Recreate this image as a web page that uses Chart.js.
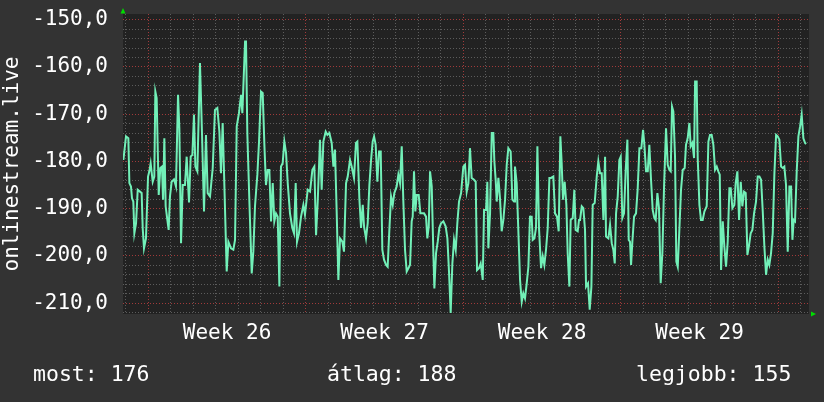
<!DOCTYPE html>
<html>
<head>
<meta charset="utf-8">
<script src="https://cdn.jsdelivr.net/npm/chart.js@4/dist/chart.umd.min.js"></script>
<style>
  html, body { margin: 0; padding: 0; background: #333333; }
  #wrap { width: 824px; height: 402px; }
</style>
</head>
<body>
<div id="wrap"><canvas id="myChart" width="824" height="402"></canvas></div>
<script>
// hours since start of week 26
let hours = [
  -26.6, -23.8, -21.3, -20.2, -18.5, -17.4, -16.0, -14.9, -13.1, -11.3, -8.9, -7.1, -6.0, -4.6, -2.5, -0.3,
  1.1, 2.5, 4.7, 6.4, 7.5, 8.9, 11.1, 12.8, 14.6, 15.7, 17.1, 18.5, 20.3, 21.7, 23.1, 24.9, 27.4, 29.5,
  31.7, 33.1, 34.9, 36.7, 39.1, 40.9, 43.4, 45.2, 47.0, 48.7, 50.2, 52.3, 55.1, 57.3, 59.4, 61.5, 63.3,
  65.8, 68.7, 71.1, 73.6, 75.8, 77.5, 79.3, 81.5, 83.6, 85.4, 88.2, 90.7, 92.5,
  94.3, 96.7, 98.9, 100.3, 103.2, 104.2, 105.6, 107.8, 110.3, 112.0, 113.8, 116.3, 118.1, 120.2, 122.0,
  123.8, 125.5, 127.3, 129.1, 130.9, 132.7, 134.4, 136.2, 138.0, 139.8, 141.5, 143.3, 145.1, 146.9,
  148.7, 151.1, 153.6, 155.4, 157.2, 158.6, 160.7, 162.9, 165.4, 167.1, 170.0, 172.5, 175.0, 177.1,
  178.9, 180.7, 183.1, 184.9, 186.7, 189.2, 191.0, 193.1, 195.6, 197.4, 199.1, 200.9, 202.7, 204.5,
  207.0, 208.7, 210.9, 212.7, 215.1,
  216.9, 219.4, 221.5, 223.0, 225.1, 226.9, 228.7, 230.1, 232.2, 234.0, 235.8, 237.6, 239.3, 240.8,
  242.5, 244.3, 246.1, 247.9, 249.6, 251.4, 253.6, 255.3, 257.1, 258.9, 260.7, 262.4, 264.9, 266.7,
  268.5, 270.3, 272.0, 273.8, 275.6, 277.4, 279.2, 280.9, 282.0, 283.4, 284.8, 286.3, 288.4, 290.2,
  292.3, 294.1, 296.2, 297.6, 299.1, 300.5, 302.3, 304.0, 305.1, 306.9, 308.7, 310.4, 312.2, 314.7,
  317.2, 319.0, 320.8, 322.5, 324.3, 326.1, 327.9, 329.6, 331.4, 333.6, 336.0,
  337.8, 339.6, 341.4, 343.1, 344.9, 347.4, 349.2, 350.6, 352.7, 354.5, 356.7, 358.1, 360.2, 361.6,
  362.7, 364.5, 366.3, 368.0, 369.1, 370.5, 371.6, 373.4, 375.1, 376.9, 378.7, 380.5, 382.3, 384.0,
  386.5, 388.3, 390.1, 391.1, 392.9, 394.7, 396.5, 398.3, 400.0, 401.8, 403.6, 405.4, 407.1, 408.9,
  410.0, 411.8, 413.5, 415.0, 416.7, 418.9, 420.7, 422.4, 424.2, 426.0, 427.8, 429.5, 432.0, 433.8,
  435.9, 437.7, 439.5, 440.9, 442.3, 444.1, 445.9, 447.3, 449.1, 450.5, 452.7, 454.4, 455.8, 458.0, 459.4,
  460.5, 462.3, 464.0, 465.8, 466.9, 469.0, 470.8, 472.6, 474.0, 476.1, 478.3, 480.0, 481.8, 483.6,
  485.4, 487.2, 488.2, 490.7, 492.5, 494.3, 496.0, 497.5, 498.9, 500.7, 502.4, 503.9, 505.6, 507.4,
  509.2, 511.0, 512.4, 513.8, 514.9, 516.3, 518.1, 520.2, 522.0, 523.8, 525.9, 527.7, 529.1, 530.9,
  532.7, 534.4, 536.2, 538.0, 539.8, 541.2, 543.0, 544.7, 546.5, 548.3, 550.1, 552.2, 554.0, 555.8,
  557.2, 558.6, 560.0, 561.8, 563.2, 564.7, 566.4, 568.2, 570.0, 572.1, 573.5, 575.3, 577.1, 578.5,
  580.3, 582.1,
  583.2, 584.9, 586.0, 587.8, 589.5, 591.3, 593.1, 595.6, 597.4, 599.1, 600.9, 602.7, 604.5, 606.3,
  608.0, 609.5, 610.9, 612.7, 614.4, 616.2, 618.0, 619.8, 621.2, 623.0, 625.1, 626.5, 628.3, 630.1,
  631.9, 633.6, 635.4, 637.2, 639.0, 640.8, 642.5, 644.3, 646.1, 648.2, 650.0, 651.8, 653.6, 655.3,
  657.1, 658.9, 660.7, 662.4, 664.2, 666.0, 667.8, 669.6, 671.3, 673.1, 674.9, 676.7, 678.4, 680.2,
  682.0, 683.8, 685.6, 687.0, 688.4, 689.8, 691.6, 693.4, 695.2, 696.9, 698.7, 700.5, 701.6
];

let values = [
  -179.7, -174.7, -175.1, -184.6, -185.3, -187.8, -188.5, -195.2, -193.1, -186.0, -186.4, -186.7, -194.1, -198.4, -196.3, -183.2,
  -182.1, -180.4, -184.3, -183.2, -165.2, -166.6, -187.1, -181.4, -181.1, -188.1, -175.1, -189.5, -192.4, -194.5, -187.4, -184.3, -183.8, -185.3,
  -165.9, -173.0, -197.3, -185.0, -185.0, -179.0, -188.7, -179.0, -178.6, -170.1, -181.1, -182.1, -159.2, -174.4, -190.6, -174.4, -186.7,
  -187.4, -181.4, -169.1, -168.7, -173.7, -182.5, -171.9, -187.8, -203.3, -197.0, -198.4, -198.7, -196.6,
  -172.6, -169.8, -165.9, -169.8, -154.6, -154.6, -174.0, -188.5, -203.7, -199.1, -189.5, -182.8, -175.8, -165.2, -165.5,
  -176.5, -185.0, -181.8, -181.8, -192.7, -184.6, -192.7, -191.0, -191.7, -206.5, -181.1, -180.4, -175.8, -178.2,
  -184.6, -191.0, -194.1, -195.2, -184.6, -197.0, -195.2, -191.7, -189.2, -191.3, -186.0, -186.4, -181.8, -181.1,
  -195.6, -188.5, -175.4, -186.0, -175.8, -173.7, -174.4, -174.0, -176.1, -181.1, -177.5, -190.6, -205.1, -196.3,
  -197.0, -199.1, -184.6, -183.2, -179.7,
  -181.1, -183.5, -176.1, -175.8, -187.8, -194.1, -189.2, -193.8, -196.3, -193.1, -185.0, -179.7, -175.8, -174.7,
  -176.5, -184.3, -177.9, -177.9, -198.7, -200.8, -201.9, -202.3, -194.5, -187.4, -189.2, -186.7, -185.3, -182.8,
  -184.6, -176.8, -188.4, -198.7, -203.3, -202.6, -201.9, -192.7, -191.7, -182.1, -190.6, -187.1, -187.1, -191.0,
  -191.0, -191.0, -191.7, -196.3, -193.8, -182.1, -185.3, -199.1, -206.9, -199.4, -197.0, -194.1, -193.1, -192.7,
  -193.8, -196.3, -203.7, -212.1, -201.6, -196.6, -198.7, -193.1, -188.5, -186.7, -181.1,
  -180.7, -186.4, -184.6, -177.2, -183.5, -183.9, -184.3, -203.0, -202.6, -201.6, -205.1, -190.3, -190.3, -184.3,
  -198.4, -191.0, -174.0, -174.0, -180.0, -183.9, -188.5, -183.5, -187.8, -194.8, -192.4, -188.1, -180.7, -177.2,
  -177.9, -188.1, -188.5, -181.1, -184.6, -194.8, -205.1, -209.7, -207.9, -209.0, -205.8, -202.3, -191.7, -191.7,
  -196.6, -196.3, -194.1, -176.8, -194.1, -202.6, -200.1, -201.9, -198.7, -194.1, -183.5, -183.5, -183.2, -191.0,
  -191.7, -194.8, -174.7, -180.4, -188.1, -184.3, -189.2, -199.4, -206.5, -192.4, -192.0, -186.0, -194.5, -194.8, -192.4,
  -192.4, -189.5, -189.9, -194.5, -206.5, -205.8, -211.4, -206.5, -189.2, -188.8, -183.2, -180.0, -182.5, -182.5,
  -192.4, -179.0, -195.9, -196.3, -193.4, -197.3, -198.7, -201.6, -191.0, -187.4, -179.7, -179.0, -192.0, -191.0,
  -181.8, -175.4, -196.6, -197.0, -201.9, -197.0, -191.7, -191.0, -185.7, -177.2, -177.2, -173.3, -176.5, -182.1,
  -182.1, -176.5, -183.9, -190.3, -192.0, -192.4, -186.7, -189.9, -205.8, -199.4, -185.3, -173.0, -180.7, -181.8,
  -182.1, -168.4, -169.4, -179.0, -201.2, -202.3, -194.5, -186.0, -181.8, -181.4, -176.5, -175.1, -171.9, -176.8,
  -176.1, -179.3,
  -163.1, -163.1, -179.3, -189.2, -192.4, -192.4, -190.6, -189.5, -175.8, -174.4, -174.4, -176.5, -181.8, -181.1,
  -182.1, -182.8, -203.0, -192.7, -198.0, -202.3, -197.0, -185.7, -185.7, -189.9, -189.2, -184.6, -182.1, -192.4,
  -184.3, -189.5, -186.4, -186.7, -199.8, -197.7, -195.2, -194.5, -191.0, -188.5, -183.2, -183.2, -183.9, -190.3,
  -198.0, -204.0, -200.8, -201.9, -199.4, -195.2, -182.5, -174.4, -174.7, -175.4, -181.1, -181.4, -181.1, -185.0,
  -199.1, -185.3, -185.3, -196.6, -192.4, -192.7, -182.1, -174.7, -172.6, -170.1, -175.1, -176.1, -176.3
];

let weekLabels = ["Week 26", "Week 27", "Week 28", "Week 29"];
let yTicks = [-150, -160, -170, -180, -190, -200, -210];
let axisTitle = "onlinestream.live";
let legendTexts = ["most: 176", "átlag: 188", "legjobb: 155"];

const FONT = "'DejaVu Sans Mono', monospace";
const HOUR_MIN = -27, HOUR_MAX = 704.7;
const Y_MIN = -212.3, Y_MAX = -148.8;

let punts = hours.map((h, i) => ({ x: h, y: values[i] }));

// fondo del area de la grafica
const fondo = {
  id: "fondo",
  beforeDraw(chart) {
    const a = chart.chartArea;
    const ctx = chart.ctx;
    ctx.save();
    ctx.fillStyle = "#333333";
    ctx.fillRect(0, 0, chart.width, chart.height);
    ctx.fillStyle = "#222222";
    ctx.fillRect(a.left, a.top, a.right - a.left, a.bottom - a.top);
    ctx.restore();
  },
  afterDraw(chart) {
    const a = chart.chartArea;
    const ctx = chart.ctx;
    ctx.save();
    // flechas verdes
    ctx.fillStyle = "#00dd00";
    ctx.beginPath();
    ctx.moveTo(a.left - 2.5, a.top - 0.5);
    ctx.lineTo(a.left + 2.5, a.top - 0.5);
    ctx.lineTo(a.left, a.top - 6);
    ctx.fill();
    ctx.beginPath();
    ctx.moveTo(a.right + 2, a.bottom - 2.5);
    ctx.lineTo(a.right + 2, a.bottom + 2.5);
    ctx.lineTo(a.right + 7, a.bottom);
    ctx.fill();
    // leyenda inferior
    ctx.fillStyle = "#ffffff";
    ctx.font = "21.5px " + FONT;
    ctx.textBaseline = "middle";
    ctx.textAlign = "left";
    ctx.fillText(legendTexts[0], 33, 375);
    ctx.fillText(legendTexts[1], 327, 375);
    ctx.fillText(legendTexts[2], 636, 375);
    ctx.restore();
  }
};

var my_chart = document.getElementById("myChart");

new Chart(my_chart, {
  type: "line",
  plugins: [fondo],
  data: {
    datasets: [
      {
        data: punts,
        borderColor: "#72f0b8",
        borderWidth: 2,
        pointRadius: 0,
        tension: 0,
        fill: false,
      },
    ],
  },
  options: {
    responsive: false,
    animation: false,
    layout: { padding: { left: 0, top: 14, right: 15, bottom: 48 } },
    plugins: {
      legend: { display: false },
      tooltip: { enabled: false },
    },
    scales: {
      x: {
        type: "linear",
        min: HOUR_MIN,
        max: HOUR_MAX,
        afterBuildTicks: (scale) => {
          let t = [];
          for (let h = -24; h <= 696; h += 12) t.push({ value: h });
          scale.ticks = t;
        },
        afterFit: (scale) => {
          scale.height = 40;
          scale.paddingLeft = 0;
          scale.paddingRight = 0;
        },
        grid: {
          drawTicks: false,
          color: (ctx) => {
            let v = ctx.tick ? ctx.tick.value : 1;
            if (v % 168 === 0) return "#a03a3a";
            if (v % 24 === 0) return "#5c5c5c";
            return "rgba(0,0,0,0)";
          },
        },
        border: { display: false, dash: [1, 2] },
        ticks: {
          autoSkip: false,
          maxRotation: 0,
          padding: 7,
          color: "#ffffff",
          font: { family: FONT, size: 21 },
          callback: (v) => {
            if (v >= 84 && (v - 84) % 168 === 0) return weekLabels[(v - 84) / 168] || "";
            return "";
          },
        },
      },
      y: {
        min: Y_MIN,
        max: Y_MAX,
        afterBuildTicks: (scale) => {
          let t = [];
          for (let v = -212; v <= -150; v += 2) t.push({ value: v });
          scale.ticks = t;
        },
        afterFit: (scale) => {
          scale.width = 123;
          // sin margen extra arriba por la etiqueta
          scale.paddingTop = 0;
          scale.paddingBottom = 0;
        },
        grid: {
          drawTicks: false,
          color: (ctx) => {
            let v = ctx.tick ? ctx.tick.value : 1;
            if (v % 10 === 0) return "#a03a3a";
            return "#5c5c5c";
          },
        },
        border: { display: false, dash: [1, 2] },
        title: {
          display: true,
          text: axisTitle,
          color: "#ffffff",
          font: { family: FONT, size: 21 },
          padding: { top: 0, bottom: 0 },
        },
        ticks: {
          autoSkip: false,
          padding: 15,
          color: "#ffffff",
          font: { family: FONT, size: 21 },
          callback: (v) => {
            if (yTicks.includes(v)) return v.toFixed(1).replace(".", ",");
            return "";
          },
        },
      },
    },
  },
});
</script>
</body>
</html>
